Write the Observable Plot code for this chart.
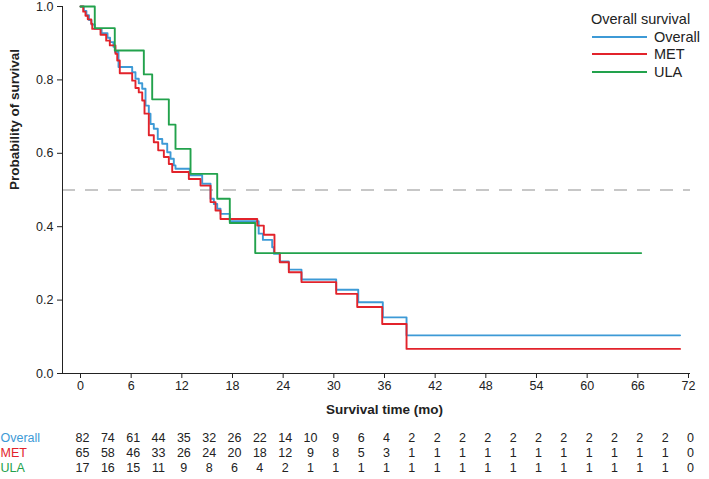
<!DOCTYPE html>
<html><head><meta charset="utf-8">
<script src="https://cdn.jsdelivr.net/npm/d3@7"></script>
<script src="https://cdn.jsdelivr.net/npm/@observablehq/plot@0.6"></script>
<style>
body{margin:0;background:#fff;font-family:"Liberation Sans",Arial,sans-serif;}
#wrap{position:relative;width:709px;height:479px;overflow:hidden;}
#legend{position:absolute;left:590px;top:11px;font-size:14.5px;color:#222;font-family:"Liberation Sans",Arial,sans-serif;}
</style></head><body>
<div id="wrap"><div id="chart"></div><div id="legend"></div></div>
<script>
// ---- data ----
const groups = ["Overall", "MET", "ULA"];
const colors = ["#3d9ad6", "#e2232b", "#22a24c"];
const legendTitle = "Overall survival";
const xLabel = "Survival time (mo)";
const yLabel = "Probability of survival";
const tickX = [0, 6, 12, 18, 24, 30, 36, 42, 48, 54, 60, 66, 72];
const tickY = [0, 0.2, 0.4, 0.6, 0.8, 1.0];
const refLine = 0.5;

// Kaplan-Meier steps [time (mo), survival]
const overallSteps = [[0,1],[0.4,0.988],[0.7,0.976],[1.0,0.963],[1.3,0.951],[1.7,0.939],[2.5,0.927],[3.2,0.915],[3.5,0.903],[3.9,0.89],[4.1,0.876],[4.5,0.835],[6.12,0.821],[6.51,0.803],[6.9,0.791],[7.31,0.776],[7.7,0.73],[8.09,0.708],[8.29,0.68],[8.68,0.667],[9.15,0.639],[9.68,0.626],[10.27,0.603],[10.66,0.585],[11.05,0.567],[11.25,0.558],[12.94,0.54],[14.41,0.517],[15.4,0.476],[15.79,0.462],[16.19,0.449],[16.58,0.435],[17.68,0.415],[21.1,0.381],[21.6,0.364],[22.7,0.344],[22.9,0.326],[23.6,0.305],[24.67,0.283],[26.17,0.256],[30.28,0.228],[32.89,0.194],[35.8,0.153],[38.61,0.104],[71.0,0.104]];
const metSteps = [[0,1],[0.32,0.986],[0.59,0.975],[0.86,0.965],[1.27,0.953],[1.39,0.939],[2.37,0.923],[3.04,0.907],[3.47,0.894],[4.14,0.871],[4.35,0.853],[4.65,0.818],[6.12,0.798],[6.51,0.778],[6.9,0.766],[7.31,0.744],[7.58,0.708],[8.09,0.649],[8.68,0.63],[9.2,0.608],[9.87,0.59],[10.46,0.571],[10.86,0.549],[12.83,0.53],[14.21,0.512],[15.4,0.467],[15.99,0.444],[16.58,0.421],[20.93,0.403],[21.71,0.378],[22.97,0.328],[23.6,0.303],[24.67,0.276],[26.17,0.249],[30.28,0.217],[32.77,0.181],[35.73,0.135],[38.61,0.067],[71.0,0.067]];
const ulaSteps = [[0,1],[1.69,0.941],[4.06,0.88],[7.5,0.815],[8.49,0.747],[10.46,0.678],[11.25,0.612],[13.03,0.544],[16.19,0.476],[17.68,0.41],[20.69,0.328],[66.4,0.328]];

// Numbers at risk
const riskTimes = [0,3,6,9,12,15,18,21,24,27,30,33,36,39,42,45,48,51,54,57,60,63,66,69,72];
const riskOverall = [82,74,61,44,35,32,26,22,14,10,9,6,4,2,2,2,2,2,2,2,2,2,2,2,0];
const riskMET = [65,58,46,33,26,24,20,18,12,9,8,5,3,1,1,1,1,1,1,1,1,1,1,1,0];
const riskULA = [17,16,15,11,9,8,6,4,2,1,1,1,1,1,1,1,1,1,1,1,1,1,1,1,0];

// ---- build tables ----
const stepSets = [overallSteps, metSteps, ulaSteps];
const curves = stepSets.flatMap((s, i) => s.map(([t, v]) => ({group: groups[i], t, s: v})));
const riskSets = [riskOverall, riskMET, riskULA];
const rowDy = [68, 83, 98];

const xMin = -2.132, xMax = 72.237;

const riskMarks = riskSets.flatMap((arr, i) => [
  Plot.text(arr.map((n, j) => ({t: riskTimes[j], n})), {x: "t", text: d => String(d.n), frameAnchor: "bottom", dy: rowDy[i], dx: 2, fill: "#222", fontSize: 12.5}),
  Plot.text([groups[i]], {frameAnchor: "bottom-left", dx: -62, dy: rowDy[i], textAnchor: "start", fill: colors[i], fontSize: 12.5})
]);

const chart = Plot.plot({
  width: 709, height: 479,
  marginLeft: 62, marginRight: 19, marginTop: 6, marginBottom: 106,
  style: {fontFamily: "Liberation Sans, Arial, sans-serif", fontSize: "12px", color: "#222", background: "#fff"},
  x: {domain: [xMin, xMax]},
  y: {domain: [0, 1]},
  color: {domain: groups, range: colors},
  marks: [
    Plot.ruleY([refLine], {stroke: "#b5b5b5", strokeWidth: 1.6, strokeDasharray: "13,10"}),
    Plot.line(curves, {x: "t", y: "s", z: "group", stroke: "group", curve: "step-after", strokeWidth: 1.9}),
    Plot.ruleY([0], {stroke: "#222", strokeWidth: 1}),
    Plot.ruleX([xMin], {stroke: "#222", strokeWidth: 1}),
    Plot.axisX({ticks: tickX, tickSize: 5, tickPadding: 3, label: null, fontSize: 12.5}),
    Plot.axisY({ticks: tickY, tickFormat: d3.format(".1f"), tickSize: 5, tickPadding: 4, label: null, fontSize: 12.5}),
    Plot.text([yLabel], {frameAnchor: "left", dx: -48, rotate: -90, fontWeight: "bold", fontSize: 13.5}),
    Plot.text([36], {x: d => d, text: () => xLabel, frameAnchor: "bottom", dy: 40, fontWeight: "bold", fontSize: 13.5}),
    ...riskMarks
  ]
});
document.getElementById("chart").appendChild(chart);

// ---- legend ----
const lg = document.getElementById("legend");
let html = `<div style="margin-left:1px;line-height:17px">${legendTitle}</div>`;
groups.forEach((g, i) => {
  html += `<div style="display:flex;align-items:center;height:17.5px"><svg width="58" height="6" style="margin-right:6px"><line x1="2" x2="57" y1="3" y2="3" stroke="${colors[i]}" stroke-width="2"/></svg><span>${g}</span></div>`;
});
lg.innerHTML = html;
</script>
</body></html>
